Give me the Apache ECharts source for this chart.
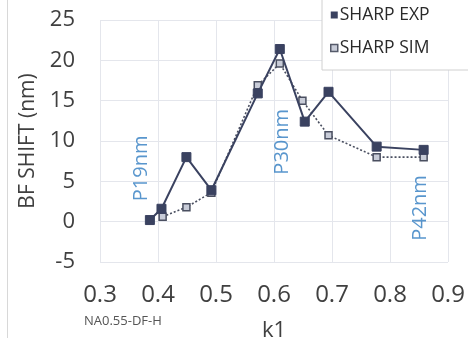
<!DOCTYPE html>
<html>
<head>
<meta charset="utf-8">
<script src="https://cdn.jsdelivr.net/npm/echarts@6/dist/echarts.min.js"></script>
<style>
  html, body { margin: 0; padding: 0; background: #fff; }
  #chart { width: 468px; height: 338px; }
</style>
</head>
<body>
<div id="chart"></div>
<script>
// k1 values and measured / simulated best-focus shift (nm)
const k1Exp = [0.386, 0.406, 0.449, 0.492, 0.572, 0.610, 0.653, 0.694, 0.777, 0.858];
const sharpExp = [0.2, 1.6, 8.0, 3.9, 15.9, 21.4, 12.4, 16.1, 9.3, 8.9];
const k1Sim = [0.408, 0.449, 0.492, 0.572, 0.610, 0.649, 0.694, 0.777, 0.858];
const sharpSim = [0.6, 1.8, 3.6, 16.9, 19.6, 15.0, 10.7, 8.0, 8.0];

// pitch annotations (k1, shift, text)
const pitchK1 = [0.372, 0.614, 0.852];
const pitchY = [6.6, 9.9, 1.7];
const pitchText = ['P19nm', 'P30nm', 'P42nm'];

const yTicks = [-5, 0, 5, 10, 15, 20, 25];
const xTicks = [0.3, 0.4, 0.5, 0.6, 0.7, 0.8, 0.9];

const FONT = '"Open Sans", "Noto Sans", sans-serif';
const DARK = '#3a4260';

const zip = (xs, ys) => xs.map((x, i) => [x, ys[i]]);

const chart = echarts.init(document.getElementById('chart'), null, { renderer: 'canvas' });

chart.setOption({
  animation: false,
  backgroundColor: '#ffffff',
  grid: { left: 100, right: 20, top: 20, bottom: 76, containLabel: false, outerBoundsMode: 'none' },
  xAxis: {
    type: 'value',
    min: xTicks[0],
    max: xTicks[xTicks.length - 1],
    interval: 0.1,
    name: 'k1',
    nameLocation: 'middle',
    nameGap: 58,
    nameTextStyle: { fontFamily: FONT, fontSize: 22, color: '#404040' },
    axisLine: { show: false },
    axisTick: { show: false },
    axisLabel: {
      fontFamily: FONT, fontSize: 24, color: '#404040', margin: 21,
      formatter: v => v.toFixed(1)
    },
    splitLine: { show: true, lineStyle: { color: '#e4e6ec', width: 1 } }
  },
  yAxis: {
    type: 'value',
    min: yTicks[0],
    max: yTicks[yTicks.length - 1],
    interval: 5,
    name: 'BF SHIFT (nm)',
    nameLocation: 'middle',
    nameGap: 60,
    nameRotate: 90,
    nameTextStyle: { fontFamily: FONT, fontSize: 21, color: '#404040' },
    axisLine: { show: false },
    axisTick: { show: false },
    axisLabel: { fontFamily: FONT, fontSize: 22, color: '#404040', margin: 25 },
    splitLine: { show: true, lineStyle: { color: '#e4e6ec', width: 1 } }
  },
  legend: {
    orient: 'vertical',
    left: 322,
    top: -5,
    width: 170,
    padding: [10, 40, 12, 8],
    itemGap: 13,
    itemWidth: 7,
    itemHeight: 7,
    icon: 'rect',
    borderColor: '#d0d0d0',
    borderWidth: 1,
    backgroundColor: '#ffffff',
    textStyle: { fontFamily: FONT, fontSize: 17.5, lineHeight: 20, color: '#2a2a2a', padding: [0, 0, 0, -3] },
    data: [
      { name: 'SHARP EXP', itemStyle: { color: DARK, borderColor: DARK } },
      { name: 'SHARP SIM', itemStyle: { color: '#c8ccd8', borderColor: '#555a6a', borderWidth: 1.5 } }
    ]
  },
  graphic: [
    { type: 'line', shape: { x1: 7.5, y1: 0, x2: 7.5, y2: 338 }, style: { stroke: '#d8d8d8', lineWidth: 1 } },
    { type: 'text', left: 84, top: 315, style: { text: 'NA0.55-DF-H', font: '13px ' + FONT, fill: '#555555' } }
  ],
  series: [
    {
      name: 'SHARP SIM',
      type: 'line',
      data: zip(k1Sim, sharpSim),
      z: 2,
      symbol: 'rect',
      symbolSize: 7,
      lineStyle: { color: '#4a4f60', width: 1.6, type: [2, 2] },
      itemStyle: { color: '#c8ccd8', borderColor: '#4a4f60', borderWidth: 1.5 }
    },
    {
      name: 'SHARP EXP',
      type: 'line',
      data: zip(k1Exp, sharpExp),
      z: 3,
      symbol: 'rect',
      symbolSize: 9,
      lineStyle: { color: DARK, width: 2 },
      itemStyle: { color: DARK, borderColor: DARK }
    },
    {
      name: 'pitch',
      type: 'scatter',
      data: pitchK1.map((k, i) => ({ value: [k, pitchY[i]], label: { formatter: pitchText[i] } })),
      symbolSize: 0,
      silent: true,
      z: 1,
      label: {
        show: true,
        position: 'inside',
        rotate: 90,
        fontFamily: FONT,
        fontSize: 20,
        color: '#2f7cc0'
      }
    }
  ]
});
</script>
</body>
</html>
